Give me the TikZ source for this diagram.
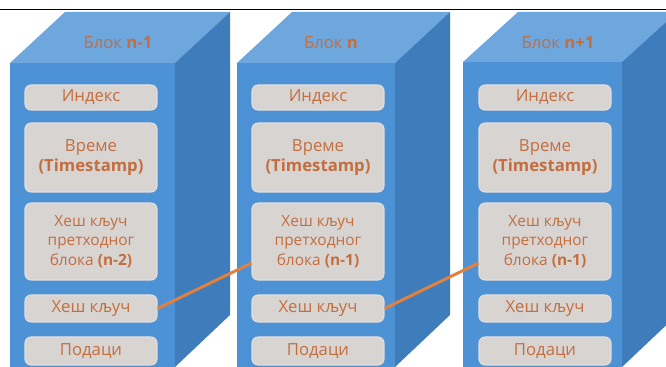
\documentclass[tikz,border=0pt]{standalone}
\usepackage{fontspec}
\setmainfont{Open Sans}
\definecolor{frontblue}{RGB}{78,146,214}
\definecolor{topblue}{RGB}{110,166,222}
\definecolor{sideblue}{RGB}{62,124,188}
\definecolor{cellgray}{RGB}{216,212,210}
\definecolor{celledge}{RGB}{228,224,222}
\definecolor{textorange}{RGB}{196,110,62}
\definecolor{linkorange}{RGB}{226,128,62}
\begin{document}
\begin{tikzpicture}[x=0.02cm, y=-0.02cm,
    cell/.style={fill=cellgray, draw=celledge, line width=0.6pt, rounded corners=0.12cm,
        minimum width=2.64cm, inner sep=0pt, text=textorange, align=center, font=\fontsize{9.5}{11.5}\selectfont},
    smallcell/.style={cell, font=\fontsize{8.8}{11.2}\selectfont},
    blocklabel/.style={text=textorange, font=\fontsize{9.5}{11}\selectfont},
    link/.style={draw=linkorange, line width=1.7pt}]
  \clip (0,0) rectangle (666,367);
  \draw[black, line width=1.1pt] (0,9.5) -- (666,9.5);

  % block n-1
  \fill[topblue] (10,63) -- (65,12) -- (230,12) -- (175,63) -- cycle;
  \fill[sideblue] (175,63) -- (230,12) -- (230,315) -- (175,367) -- cycle;
  \fill[frontblue] (10,63) rectangle (175,367);
  \node[blocklabel] (lbl1) at (118,43) {Блок \textbf{n-1}};
  \node[cell, minimum height=0.5cm] (idx1) at (91,97.5) {Индекс};
  \node[cell, minimum height=1.38cm] (time1) at (91,157.5) {Време\\\textbf{(Timestamp)}};
  \node[smallcell, minimum height=1.54cm] (prev1) at (91,241.5) {Хеш кључ\\претходног\\блока \textbf{(n-2)}};
  \node[cell, minimum height=0.54cm] (hash1) at (91,308.5) {Хеш кључ};
  \node[cell, minimum height=0.56cm] (data1) at (91,351) {Подаци};

  % block n
  \fill[topblue] (237,63) -- (292,12) -- (450,12) -- (395,63) -- cycle;
  \fill[sideblue] (395,63) -- (450,12) -- (450,315) -- (395,367) -- cycle;
  \fill[frontblue] (237,63) rectangle (395,367);
  \node[blocklabel] (lbl2) at (331,43) {Блок \textbf{n}};
  \node[cell, minimum height=0.5cm] (idx2) at (318,97.5) {Индекс};
  \node[cell, minimum height=1.38cm] (time2) at (318,157.5) {Време\\\textbf{(Timestamp)}};
  \node[smallcell, minimum height=1.54cm] (prev2) at (318,241.5) {Хеш кључ\\претходног\\блока \textbf{(n-1)}};
  \node[cell, minimum height=0.54cm] (hash2) at (318,308.5) {Хеш кључ};
  \node[cell, minimum height=0.56cm] (data2) at (318,351) {Подаци};

  % block n+1
  \fill[topblue] (463,62) -- (518,12) -- (677,12) -- (622,62) -- cycle;
  \fill[sideblue] (622,62) -- (677,12) -- (677,315) -- (622,367) -- cycle;
  \fill[frontblue] (463,62) rectangle (622,367);
  \node[blocklabel] (lbl3) at (558,43) {Блок \textbf{n+1}};
  \node[cell, minimum height=0.5cm] (idx3) at (545,97.5) {Индекс};
  \node[cell, minimum height=1.38cm] (time3) at (545,157.5) {Време\\\textbf{(Timestamp)}};
  \node[smallcell, minimum height=1.54cm] (prev3) at (545,241.5) {Хеш кључ\\претходног\\блока \textbf{(n-1)}};
  \node[cell, minimum height=0.54cm] (hash3) at (545,308.5) {Хеш кључ};
  \node[cell, minimum height=0.56cm] (data3) at (545,351) {Подаци};

  % links
  \draw[link] (hash1.east) -- (prev2.198);
  \draw[link] (hash2.east) -- (prev3.198);
\end{tikzpicture}
\end{document}
